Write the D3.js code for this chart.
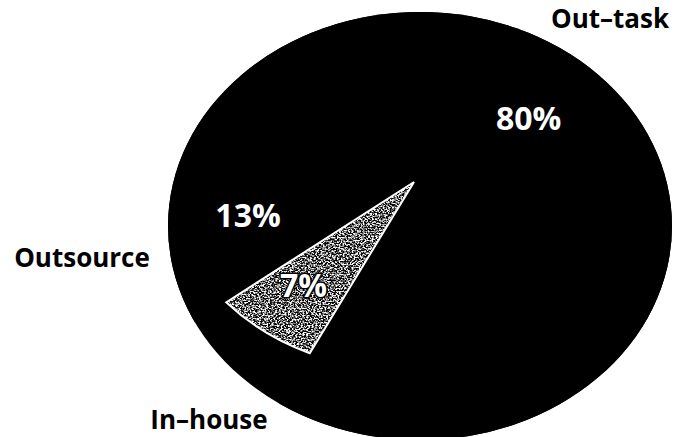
<!DOCTYPE html>
<html>
<head>
<meta charset="utf-8">
<script src="https://cdn.jsdelivr.net/npm/d3@7/dist/d3.min.js"></script>
<style>
  html, body { margin: 0; padding: 0; background: #fff; }
  svg { display: block; }
  text { font-family: "Open Sans", "Noto Sans", sans-serif; font-weight: 700; }
</style>
</head>
<body>
<svg id="chart" width="682" height="437"></svg>
<script>
// Sourcing split
const categories = ["In-house", "Outsource", "Out-task"];
const shares = [7, 13, 80];
const nameLabels = ["In–house", "Outsource", "Out–task"];
const valueLabels = ["7%", "13%", "80%"];

const W = 682, H = 437;
const svg = d3.select("#chart");

// pie geometry: centre of the slices and vertical squash of the tilted disc
const hub = { x: 414, y: 182 };
const tilt = 0.78;
const disc = { cx: 420, cy: 226, rx: 252, ry: 214 };
const deg = Math.PI / 180;
const start = 205.4 * deg;

const defs = svg.append("defs");
defs.append("clipPath").attr("id", "discClip")
  .append("ellipse")
  .attr("cx", disc.cx).attr("cy", disc.cy)
  .attr("rx", disc.rx).attr("ry", disc.ry);

// speckled halftone for the grey slice
const grain = defs.append("filter").attr("id", "grain")
  .attr("color-interpolation-filters", "sRGB")
  .attr("x", "-5%").attr("y", "-5%").attr("width", "110%").attr("height", "110%");
grain.append("feTurbulence")
  .attr("type", "fractalNoise").attr("baseFrequency", 0.55)
  .attr("numOctaves", 2).attr("seed", 7).attr("result", "noise");
grain.append("feColorMatrix").attr("in", "noise").attr("type", "matrix")
  .attr("values", "4.5 0 0 0 -1.85  4.5 0 0 0 -1.85  4.5 0 0 0 -1.85  0 0 0 0 1")
  .attr("result", "speck");
grain.append("feComposite").attr("in", "speck").attr("in2", "SourceGraphic")
  .attr("operator", "in");

const pie = d3.pie().sort(null).startAngle(start).endAngle(start + 2 * Math.PI);
const slices = pie(shares);

const fills = { "In-house": "#666", "Outsource": "#000", "Out-task": "#000" };
const outer = { "In-house": 243, "Outsource": 420, "Out-task": 420 };
const arc = d3.arc().innerRadius(0).outerRadius(d => outer[categories[d.index]]);

// disc body
svg.append("ellipse")
  .attr("cx", disc.cx).attr("cy", disc.cy)
  .attr("rx", disc.rx).attr("ry", disc.ry)
  .attr("fill", "#000");

const pieG = svg.append("g").attr("clip-path", "url(#discClip)")
  .append("g")
  .attr("transform", `translate(${hub.x},${hub.y}) scale(1,${tilt})`);

pieG.selectAll("path.slice")
  .data(slices)
  .join("path")
  .attr("class", "slice")
  .attr("d", arc)
  .attr("fill", d => fills[categories[d.index]])
  .attr("filter", d => categories[d.index] === "In-house" ? "url(#grain)" : null);

// white keyline around the grey slice
pieG.selectAll("path.edge")
  .data(slices.filter(d => categories[d.index] === "In-house"))
  .join("path")
  .attr("class", "edge")
  .attr("d", arc)
  .attr("fill", "none")
  .attr("stroke", "#fff")
  .attr("stroke-width", 2)
  .attr("vector-effect", "non-scaling-stroke")
  .attr("stroke-linejoin", "miter");

// percentage labels, placed along each slice's bisector
const labelR = { "In-house": 172, "Outsource": 171, "Out-task": 141 };
const labelTurn = { "In-house": 2, "Outsource": 2, "Out-task": -7 };
function labelPos(d) {
  const k = categories[d.index];
  const a = (d.startAngle + d.endAngle) / 2 + labelTurn[k] * deg;
  const r = labelR[k];
  return [hub.x + r * Math.sin(a), hub.y - r * Math.cos(a) * tilt];
}

svg.selectAll("text.pct")
  .data(slices)
  .join("text")
  .attr("class", "pct")
  .attr("x", d => labelPos(d)[0])
  .attr("y", d => labelPos(d)[1])
  .attr("text-anchor", "middle")
  .attr("dominant-baseline", "central")
  .attr("font-size", 32)
  .attr("fill", "#fff")
  .attr("stroke", d => categories[d.index] === "In-house" ? "#000" : "none")
  .attr("stroke-width", 3)
  .attr("paint-order", "stroke")
  .text(d => valueLabels[d.index]);

// category names outside the disc
const namePos = {
  "In-house": [209, 429],
  "Outsource": [82, 267],
  "Out-task": [610, 28]
};
svg.selectAll("text.name")
  .data(categories)
  .join("text")
  .attr("class", "name")
  .attr("x", d => namePos[d][0])
  .attr("y", d => namePos[d][1])
  .attr("text-anchor", "middle")
  .attr("font-size", 26)
  .attr("fill", "#000")
  .text((d, i) => nameLabels[i]);
</script>
</body>
</html>
